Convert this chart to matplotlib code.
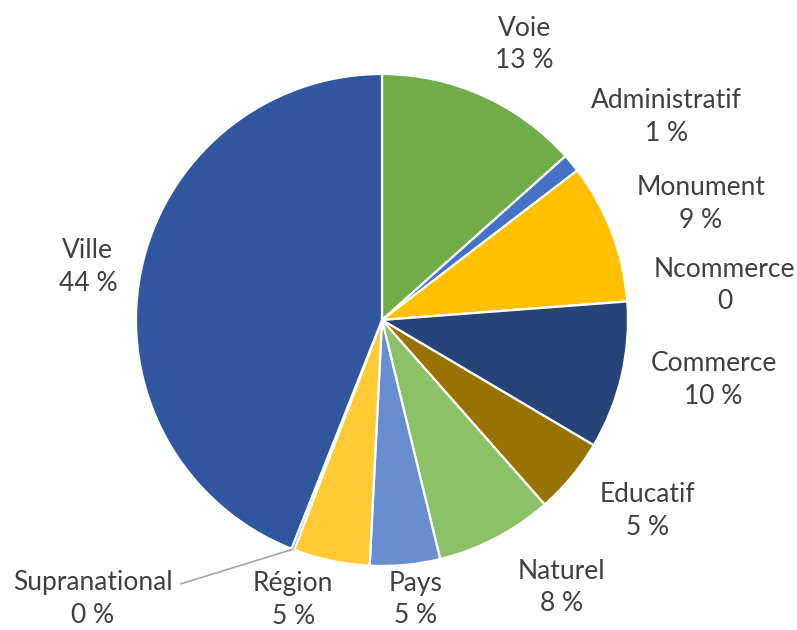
import numpy as np
import matplotlib.pyplot as plt

# Share of each category (percent), clockwise from 12 o'clock
categories = ['Voie', 'Administratif', 'Monument', 'Ncommerce', 'Commerce', 'Educatif',
              'Naturel', 'Pays', 'Région', 'Supranational', 'Ville']
shares = [13.4, 1.2, 9.2, 0.0, 9.7, 5.0, 7.7, 4.6, 5.0, 0.2, 44.0]
value_labels = ['13 %', '1 %', '9 %', '0', '10 %', '5 %', '8 %', '5 %', '5 %', '0 %', '44 %']
colors = ['#70AD47', '#4472C4', '#FFC000', '#A5A5A5', '#264478', '#997300',
          '#8CC168', '#698ED0', '#FFCA33', '#5B9BD5', '#2F569F']

# label distance (in radii) and clockwise angular nudge (degrees) per slice
label_dist = [1.26, 1.42, 1.38, 1.40, 1.37, 1.33, 1.31, 1.145, 1.195, 1.2, 1.215]
label_nudge = [3.2, 4.1, 0.9, -1.4, -2.9, -3.9, -6.3, -1.5, 5.7, 0, -0.6]

W, H = 797, 630
cx, cy, R = 382, 310, 246

fig = plt.figure(figsize=(W / 100, H / 100), dpi=100, facecolor='white')
ax = fig.add_axes([0, 0, 1, 1])

wedges, _ = ax.pie(shares, colors=colors, startangle=90, counterclock=False,
                   center=(cx, cy), radius=R,
                   wedgeprops=dict(edgecolor='white', linewidth=1.6))

# pie() resets the limits, so fix the canvas afterwards
ax.set_xlim(0, W)
ax.set_ylim(0, H)
ax.set_aspect('equal')
ax.axis('off')

text_kw = dict(ha='center', va='center', fontsize=19, color='#404040',
               family=['Lato', 'DejaVu Sans'], linespacing=1.38)

for i, w in enumerate(wedges):
    mid = np.deg2rad((w.theta1 + w.theta2) / 2 - label_nudge[i])
    label = f'{categories[i]}\n{value_labels[i]}'
    if categories[i] == 'Supranational':
        # tiny slice: text sits below-left with a leader line to the rim
        edge = (cx + R * np.cos(mid), cy + R * np.sin(mid))
        ax.annotate(label, xy=edge, xytext=(93, 31), textcoords='data',
                    arrowprops=dict(arrowstyle='-', color='#A6A6A6', lw=1.2,
                                    shrinkA=4, shrinkB=0,
                                    relpos=(1.0, 0.72)),
                    **text_kw)
        continue
    d = label_dist[i] * R
    ax.text(cx + d * np.cos(mid), cy + d * np.sin(mid), label, **text_kw)

fig.savefig('out.png', dpi=100, facecolor='white')
